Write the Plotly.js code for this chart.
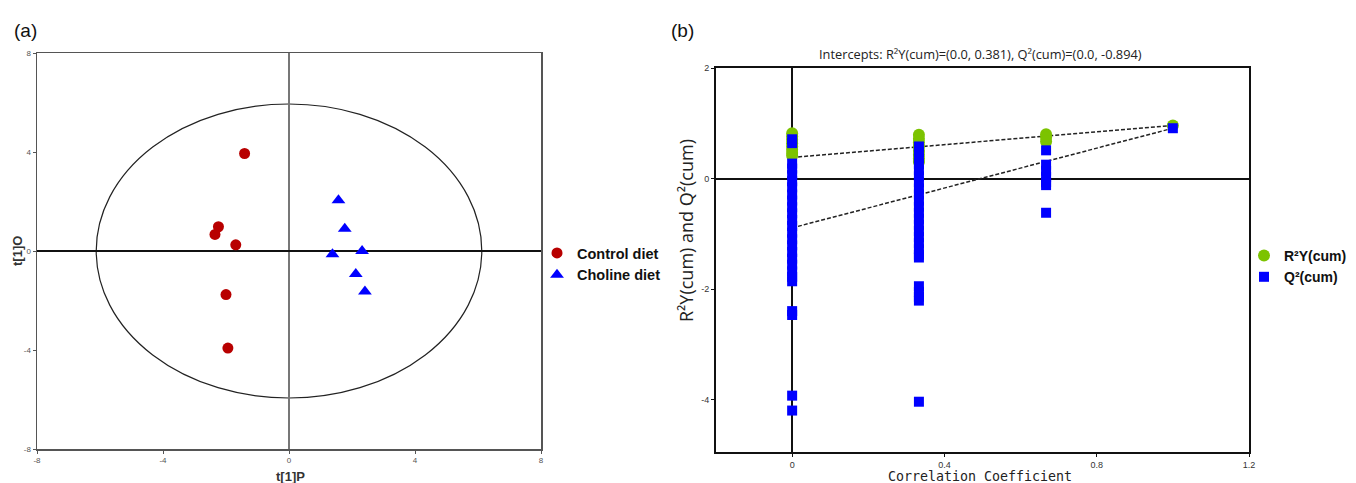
<!DOCTYPE html>
<html>
<head>
<meta charset="utf-8">
<script src="https://cdn.plot.ly/plotly-3.0.1.min.js"></script>
<style>html,body{margin:0;padding:0;background:#fff;}#chart{width:1356px;height:483px;}</style>
</head>
<body>
<div id="chart"></div>
<script>
// ---------- Panel (a): OPLS-DA score plot ----------
const controlX = [-1.41, -2.24, -2.35, -1.69, -2.00, -1.94];
const controlY = [3.94, 0.98, 0.67, 0.25, -1.76, -3.92];
const cholineX = [1.57, 1.77, 2.32, 1.38, 2.12, 2.41];
const cholineY = [2.05, 0.90, 0.00, -0.13, -0.93, -1.64];
const ellipseRadii = [6.12, 5.94]; // Hotelling T2 ellipse (x, y)
const ticksA = [-8, -4, 0, 4, 8];

// ---------- Panel (b): permutation test ----------
const permCorr = [0, 0.333, 0.667];
const r2yPerm0 = [0.82, 0.76, 0.70, 0.64, 0.58, 0.52, 0.46, 0.41];
const r2yPerm1 = [0.79, 0.72, 0.65, 0.58, 0.50, 0.43, 0.36, 0.30];
const r2yPerm2 = [0.80, 0.74, 0.67];
const q2Perm0 = [0.71, 0.64, 0.27, 0.18, 0.06, -0.05, -0.16, -0.29, -0.40, -0.52, -0.63, -0.75, -0.86, -0.98, -1.10, -1.21, -1.33, -1.45, -1.56, -1.68, -1.78, -1.86, -2.40, -2.47, -3.93, -4.20];
const q2Perm1 = [0.58, 0.48, 0.37, 0.26, 0.15, 0.04, -0.07, -0.18, -0.29, -0.40, -0.51, -0.62, -0.73, -0.84, -0.95, -1.06, -1.17, -1.28, -1.38, -1.43, -1.95, -2.05, -2.14, -2.21, -4.04];
const q2Perm2 = [0.51, 0.25, 0.14, 0.03, -0.07, -0.12, -0.62];
const origCorr = 1.0;
const r2yOrig = 0.96;
const q2Orig = 0.91;
const r2yIntercept = 0.381;
const q2Intercept = -0.894;
const ticksBx = [0, 0.4, 0.8, 1.2];
const ticksBy = [-4, -2, 0, 2];

function expand(groups) {
  const xs = [], ys = [];
  groups.forEach((g, i) => g.forEach(v => { xs.push(permCorr[i]); ys.push(v); }));
  return [xs, ys];
}
const [r2yX, r2yY] = expand([r2yPerm0, r2yPerm1, r2yPerm2]);
const [q2X, q2Y] = expand([q2Perm0, q2Perm1, q2Perm2]);
r2yX.push(origCorr); r2yY.push(r2yOrig);
q2X.push(origCorr); q2Y.push(q2Orig);

const legFontA = {family: 'Liberation Sans, Arial, sans-serif', size: 14.5, color: '#111'};
const legFontB = {family: 'Liberation Sans, Arial, sans-serif', size: 14, color: '#111'};

const traces = [
  {x: controlX, y: controlY, type: 'scatter', mode: 'markers', name: '<b>Control diet</b>',
   marker: {symbol: 'circle', size: 11, color: '#b80000'}, xaxis: 'x', yaxis: 'y', legend: 'legend', cliponaxis: false},
  {x: cholineX, y: cholineY, type: 'scatter', mode: 'markers', name: '<b>Choline diet</b>',
   marker: {symbol: 'triangle-up', size: 12, color: '#0000ff'}, xaxis: 'x', yaxis: 'y', legend: 'legend', cliponaxis: false},
  {x: [0, origCorr], y: [r2yIntercept, r2yOrig], type: 'scatter', mode: 'lines', showlegend: false,
   line: {color: '#222', width: 1.5, dash: '4px,2px'}, xaxis: 'x2', yaxis: 'y2'},
  {x: [0, origCorr], y: [q2Intercept, q2Orig], type: 'scatter', mode: 'lines', showlegend: false,
   line: {color: '#222', width: 1.5, dash: '4px,2px'}, xaxis: 'x2', yaxis: 'y2'},
  {x: r2yX, y: r2yY, type: 'scatter', mode: 'markers', name: '<b>R²Y(cum)</b>',
   marker: {symbol: 'circle', size: 12, color: '#7cc300'}, xaxis: 'x2', yaxis: 'y2', legend: 'legend2'},
  {x: q2X, y: q2Y, type: 'scatter', mode: 'markers', name: '<b>Q²(cum)</b>',
   marker: {symbol: 'square', size: 10, color: '#0000ff'}, xaxis: 'x2', yaxis: 'y2', legend: 'legend2'}
];

const tickFontA = {family: 'Liberation Sans, Arial, sans-serif', size: 8, color: '#555'};
const tickFontB = {family: 'Liberation Sans, Arial, sans-serif', size: 9, color: '#333'};

const layout = {
  width: 1356, height: 483,
  margin: {l: 0, r: 0, t: 0, b: 0},
  paper_bgcolor: '#fff', plot_bgcolor: '#fff',
  showlegend: true,
  xaxis: {domain: [37/1356, 541/1356], range: [-8, 8], tickvals: ticksA, ticktext: ticksA.map(String),
    showgrid: false, zeroline: true, zerolinecolor: '#777', zerolinewidth: 1.5,
    showline: true, linecolor: '#555', linewidth: 1.5, mirror: true, ticks: 'outside', ticklen: 3, tickcolor: '#555',
    tickfont: tickFontA, anchor: 'y'},
  yaxis: {domain: [1 - 449/483, 1 - 53/483], range: [-8, 8], tickvals: ticksA, ticktext: ticksA.map(String),
    showgrid: false, zeroline: true, zerolinecolor: '#111', zerolinewidth: 1.5,
    showline: true, linecolor: '#555', linewidth: 1.5, mirror: true, ticks: 'outside', ticklen: 3, tickcolor: '#555',
    tickfont: tickFontA, anchor: 'x'},
  xaxis2: {domain: [716/1356, 1249/1356], range: [-0.2, 1.2], tickvals: ticksBx, ticktext: ticksBx.map(String),
    showgrid: false, zeroline: true, zerolinecolor: '#111', zerolinewidth: 1.5,
    showline: true, linecolor: '#111', linewidth: 2, mirror: true, ticks: 'outside', ticklen: 3, tickcolor: '#111',
    tickfont: tickFontB, anchor: 'y2'},
  yaxis2: {domain: [1 - 452/483, 1 - 68/483], range: [-4.95, 2], tickvals: ticksBy, ticktext: ticksBy.map(String),
    showgrid: false, zeroline: true, zerolinecolor: '#111', zerolinewidth: 2,
    showline: true, linecolor: '#111', linewidth: 2, mirror: true, ticks: 'outside', ticklen: 3, tickcolor: '#111',
    tickfont: tickFontB, anchor: 'x2'},
  legend: {x: 537/1356, y: 1 - 237/483, xanchor: 'left', yanchor: 'top', bgcolor: 'rgba(0,0,0,0)',
    font: legFontA, tracegroupgap: 0, itemwidth: 30},
  legend2: {x: 1244/1356, y: 1 - 240/483, xanchor: 'left', yanchor: 'top', bgcolor: 'rgba(0,0,0,0)',
    font: legFontB, tracegroupgap: 0, itemwidth: 30},
  shapes: [
    {type: 'circle', xref: 'x', yref: 'y', x0: -ellipseRadii[0], x1: ellipseRadii[0], y0: -ellipseRadii[1], y1: ellipseRadii[1],
     line: {color: '#222', width: 1.2}, layer: 'below'}
  ],
  annotations: [
    {text: '(a)', xref: 'paper', yref: 'paper', x: 12/1356, y: 1 - 30/483, xanchor: 'left', yanchor: 'middle', showarrow: false,
     font: {family: 'Liberation Sans, Arial, sans-serif', size: 19, color: '#111'}},
    {text: '(b)', xref: 'paper', yref: 'paper', x: 669/1356, y: 1 - 30/483, xanchor: 'left', yanchor: 'middle', showarrow: false,
     font: {family: 'Liberation Sans, Arial, sans-serif', size: 19, color: '#111'}},
    {text: '<b>t[1]P</b>', xref: 'paper', yref: 'paper', x: 290/1356, y: 1 - 476/483, xanchor: 'center', yanchor: 'middle', showarrow: false,
     font: {family: 'Liberation Sans, Arial, sans-serif', size: 13, color: '#333'}},
    {text: '<b>t[1]O</b>', xref: 'paper', yref: 'paper', x: 18/1356, y: 1 - 251/483, xanchor: 'center', yanchor: 'middle', showarrow: false, textangle: -90,
     font: {family: 'Liberation Sans, Arial, sans-serif', size: 13, color: '#333'}},
    {text: 'Intercepts: R²Y(cum)=(0.0, 0.381), Q²(cum)=(0.0, -0.894)', xref: 'paper', yref: 'paper', x: 980/1356, y: 1 - 54/483,
     xanchor: 'center', yanchor: 'middle', showarrow: false,
     font: {family: 'Open Sans, Noto Sans, sans-serif', size: 12.8, color: '#222'}},
    {text: 'R²Y(cum) and Q²(cum)', xref: 'paper', yref: 'paper', x: 686/1356, y: 1 - 231/483, xanchor: 'center', yanchor: 'middle',
     showarrow: false, textangle: -90,
     font: {family: 'Open Sans, Noto Sans, sans-serif', size: 18, color: '#222'}},
    {text: 'Correlation Coefficient', xref: 'paper', yref: 'paper', x: 980/1356, y: 1 - 476/483, xanchor: 'center', yanchor: 'middle',
     showarrow: false,
     font: {family: 'DejaVu Sans Mono, monospace', size: 13.3, color: '#222'}}
  ]
};

Plotly.newPlot('chart', traces, layout, {displayModeBar: false, staticPlot: true});
</script>
</body>
</html>
